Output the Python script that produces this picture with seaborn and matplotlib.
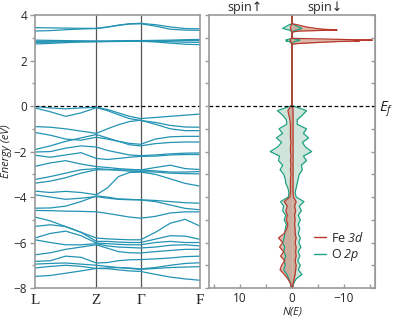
import numpy as np
import pandas as pd
import seaborn as sns
import matplotlib.pyplot as plt
from matplotlib.lines import Line2D

# =============================================================================
# Data
# =============================================================================
# high symmetry points along the k-path
k_labels = ['L', 'Z', 'Γ', 'F']
k_ticks = [0.0, 1.0, 1.72, 2.69]

# band energies (eV), 13 samples per band: L, 3 pts, Z, 3 pts, Γ, 3 pts, F
cond_bands = {
    'c1': [3.45, 3.44, 3.43, 3.42, 3.42, 3.48, 3.56, 3.62, 3.64, 3.58, 3.48, 3.41, 3.40],
    'c2': [3.30, 3.32, 3.36, 3.39, 3.41, 3.47, 3.55, 3.61, 3.62, 3.52, 3.38, 3.34, 3.33],
    'c3': [2.90, 2.89, 2.88, 2.87, 2.86, 2.86, 2.87, 2.88, 2.88, 2.89, 2.90, 2.92, 2.93],
    'c4': [2.85, 2.85, 2.85, 2.85, 2.85, 2.85, 2.86, 2.86, 2.87, 2.87, 2.87, 2.88, 2.88],
    'c5': [2.80, 2.81, 2.82, 2.83, 2.84, 2.84, 2.85, 2.85, 2.86, 2.85, 2.83, 2.81, 2.80],
    'c6': [2.73, 2.76, 2.79, 2.82, 2.83, 2.84, 2.84, 2.85, 2.85, 2.82, 2.77, 2.72, 2.70],
}
val_bands = {
    'v01': [-0.02, -0.08, -0.12, -0.08, -0.05, -0.15, -0.30, -0.45, -0.55, -0.50, -0.45, -0.40, -0.35],
    'v02': [-0.08, -0.25, -0.45, -0.30, -0.07, -0.20, -0.38, -0.55, -0.63, -0.72, -0.85, -0.92, -0.93],
    'v03': [-0.90, -0.93, -1.00, -1.10, -1.20, -1.00, -0.82, -0.68, -0.62, -0.80, -1.00, -1.08, -1.08],
    'v04': [-1.16, -1.28, -1.45, -1.50, -1.37, -1.45, -1.55, -1.64, -1.68, -1.45, -1.35, -1.33, -1.33],
    'v05': [-1.91, -1.75, -1.55, -1.40, -1.25, -1.40, -1.55, -1.70, -1.75, -1.65, -1.60, -1.58, -1.58],
    'v06': [-2.02, -2.00, -1.85, -1.75, -1.80, -1.95, -2.05, -2.15, -2.18, -2.15, -2.10, -2.07, -2.06],
    'v07': [-2.16, -2.25, -2.15, -2.05, -2.30, -2.35, -2.30, -2.25, -2.21, -2.20, -2.15, -2.13, -2.13],
    'v08': [-2.65, -2.50, -2.40, -2.55, -2.66, -2.70, -2.75, -2.78, -2.81, -2.70, -2.60, -2.75, -2.79],
    'v09': [-3.23, -3.10, -2.95, -2.80, -2.75, -2.78, -2.82, -2.86, -2.88, -2.90, -2.95, -2.97, -2.98],
    'v10': [-3.39, -3.30, -3.15, -2.95, -2.80, -2.80, -2.81, -2.81, -2.81, -2.85, -2.90, -2.90, -2.88],
    'v11': [-3.74, -3.80, -3.75, -3.80, -3.90, -3.60, -3.10, -2.92, -2.90, -3.00, -3.20, -3.40, -3.52],
    'v12': [-3.90, -4.00, -4.10, -4.05, -3.98, -4.05, -4.10, -4.12, -4.12, -4.15, -4.20, -4.25, -4.27],
    'v13': [-4.49, -4.48, -4.40, -4.20, -3.95, -4.00, -4.08, -4.10, -4.13, -4.20, -4.35, -4.50, -4.56],
    'v14': [-4.59, -4.60, -4.62, -4.63, -4.65, -4.72, -4.80, -4.88, -4.93, -4.85, -4.70, -4.65, -4.65],
    'v15': [-4.88, -5.05, -5.30, -5.55, -5.80, -5.84, -5.86, -5.88, -5.88, -5.55, -5.15, -4.98, -5.28],
    'v16': [-5.29, -5.22, -5.30, -5.55, -5.95, -5.95, -5.98, -6.00, -6.00, -5.85, -5.70, -5.72, -5.86],
    'v17': [-5.80, -5.60, -5.50, -5.70, -6.02, -6.05, -6.08, -6.10, -6.10, -6.00, -5.95, -6.00, -6.00],
    'v18': [-5.88, -6.00, -6.10, -6.10, -6.05, -6.15, -6.20, -6.22, -6.24, -6.20, -6.12, -6.10, -6.15],
    'v19': [-6.54, -6.45, -6.30, -6.20, -6.10, -6.25, -6.40, -6.45, -6.46, -6.40, -6.35, -6.30, -6.30],
    'v20': [-6.83, -6.80, -6.60, -6.65, -6.90, -6.88, -6.80, -6.76, -6.75, -6.72, -6.68, -6.62, -6.60],
    'v21': [-7.12, -7.05, -7.00, -7.05, -7.14, -7.12, -7.10, -7.12, -7.16, -7.10, -7.00, -6.92, -6.89],
    'v22': [-7.49, -7.45, -7.35, -7.25, -7.14, -7.15, -7.20, -7.25, -7.27, -7.40, -7.52, -7.60, -7.66],
    'v23': [-6.95, -6.92, -6.90, -6.95, -7.00, -7.05, -7.10, -7.14, -7.18, -7.14, -7.10, -7.08, -7.06],
}

# projected DOS, conduction region
e_cb = [4.00, 3.62, 3.58, 3.52, 3.47, 3.42, 3.38, 3.35, 3.33, 3.30, 3.27, 3.22,
        3.02, 2.98, 2.96, 2.93, 2.90, 2.88, 2.86, 2.84, 2.81, 2.78, 2.75, 2.72, 2.60, 0.05]
fe_up_cb = [0, 0, 0.1, 0.2, 0.3, 0.3, 0.2, 0.2, 0.1, 0.1, 0, 0,
            0, 0, 0.2, 0.3, 0.4, 0.3, 0.3, 0.2, 0.2, 0.1, 0.1, 0, 0, 0]
fe_dn_cb = [0, 0, -1.0, -2.0, -3.0, -4.5, -6.0, -8.7, -6.0, -1.5, -0.3, 0,
            0, 0, -4.0, -10.0, -15.5, -12.0, -13.0, -9.0, -6.0, -3.5, -1.0, 0, 0, 0]
o_up_cb = [0, 0, 0.5, 1.0, 1.4, 1.8, 1.2, 0.6, 0.4, 0.2, 0.1, 0,
           0, 0, 0.3, 0.8, 1.2, 0.9, 1.1, 0.6, 0.3, 0.2, 0.1, 0, 0, 0]
o_dn_cb = [0, 0, -0.4, -0.9, -1.4, -1.9, -1.5, -1.0, -0.6, -0.3, -0.1, 0,
           0, 0, -0.4, -0.9, -1.5, -1.2, -1.0, -0.6, -0.3, -0.2, -0.1, 0, 0, 0]

# projected DOS, valence region
e_vb = [0.0, -0.2, -0.4, -0.6, -0.8, -1.0, -1.2, -1.4, -1.6, -1.8, -2.0, -2.2, -2.4, -2.6,
        -2.8, -3.0, -3.2, -3.4, -3.6, -3.8, -4.0, -4.2, -4.4, -4.6, -4.8, -5.0, -5.2, -5.4,
        -5.6, -5.8, -6.0, -6.2, -6.4, -6.6, -6.8, -7.0, -7.2, -7.4, -7.6, -7.8, -8.0]
o_up_vb = [0.3, 2.8, 1.8, 1.1, 1.0, 2.5, 1.8, 3.0, 2.0, 2.8, 4.2, 2.4, 2.6, 1.8,
           2.3, 1.6, 1.3, 1.2, 0.8, 0.6, 0.7, 2.2, 1.6, 1.8, 1.2, 1.5, 1.1, 1.3,
           1.4, 1.5, 1.8, 1.4, 1.6, 1.2, 1.5, 1.3, 1.6, 1.0, 0.6, 0.3, 0.1]
o_dn_vb = [-0.3, -2.8, -2.0, -1.0, -1.0, -2.8, -2.2, -3.2, -2.0, -2.6, -3.8, -2.2, -2.8, -1.8,
           -2.0, -1.4, -1.2, -1.0, -0.8, -0.6, -0.8, -2.3, -1.4, -1.8, -1.2, -1.6, -1.2, -1.5,
           -1.2, -1.6, -1.3, -1.7, -1.2, -1.5, -1.1, -1.6, -1.2, -1.9, -0.8, -0.3, -0.1]
fe_up_vb = [0.2, 0.8, 0.6, 0.4, 0.3, 0.3, 0.3, 0.3, 0.2, 0.3, 0.3, 0.2, 0.3, 0.2,
            0.3, 0.2, 0.3, 0.3, 0.3, 0.3, 0.4, 1.5, 0.9, 1.2, 0.9, 1.1, 0.8, 1.0,
            1.5, 2.6, 1.8, 2.4, 1.6, 2.2, 1.4, 2.0, 2.3, 1.5, 0.8, 0.3, 0.1]
fe_dn_vb = [-0.1, -0.2, -0.2, -0.2, -0.2, -0.2, -0.2, -0.2, -0.2, -0.2, -0.2, -0.2, -0.2, -0.2,
            -0.2, -0.2, -0.2, -0.2, -0.2, -0.2, -0.3, -0.8, -0.5, -0.7, -0.5, -0.6, -0.5, -0.6,
            -0.6, -0.8, -0.6, -0.8, -0.7, -0.8, -0.6, -0.8, -0.7, -0.6, -0.4, -0.2, -0.1]

# =============================================================================
# Style
# =============================================================================
sns.set_style('ticks')
plt.rcParams['font.family'] = ['Open Sans', 'DejaVu Sans']
plt.rcParams['mathtext.fontset'] = 'custom'
# italic everywhere inside $...$ (digits included)
plt.rcParams['mathtext.rm'] = 'Open Sans:italic'
plt.rcParams['mathtext.it'] = 'Open Sans:italic'

band_color = '#2393b3'
fe_color = '#b8392b'
o_color = '#1fa283'
spine_color = '#9a9a9a'

fig = plt.figure(figsize=(3.93, 3.22), dpi=100)
ax_b = fig.add_axes([0.089, 0.1056, 0.420, 0.8474])
ax_d = fig.add_axes([0.532, 0.1056, 0.422, 0.8474])

# =============================================================================
# Band structure
# =============================================================================
k_pts = np.concatenate([np.linspace(k_ticks[i], k_ticks[i + 1], 5)[:-1] for i in range(3)] + [[k_ticks[-1]]])
rows = []
for name, vals in {**cond_bands, **val_bands}.items():
    for kk, ee in zip(k_pts, vals):
        rows.append({'k': kk, 'E': ee, 'band': name})
bands_df = pd.DataFrame(rows)

sns.lineplot(data=bands_df, x='k', y='E', units='band', estimator=None, sort=False,
             color=band_color, lw=0.9, ax=ax_b, legend=False)
for kx in k_ticks[1:-1]:
    ax_b.axvline(kx, color='#555555', lw=0.9, zorder=0)
ax_b.axhline(0, color='black', lw=0.9, ls=(0, (3, 2)))
ax_b.set_xlim(k_ticks[0], k_ticks[-1])
ax_b.set_ylim(-8, 4)
ax_b.set_xticks(k_ticks)
ax_b.set_xticklabels(k_labels, family='Liberation Serif', fontsize=11)
ax_b.tick_params(axis='x', length=0, pad=4)
ax_b.set_yticks([-8, -6, -4, -2, 0, 2, 4])
ax_b.set_yticks([-7, -5, -3, -1, 1, 3], minor=True)
ax_b.tick_params(axis='y', which='major', length=3.5, width=1, color=spine_color, labelsize=8.5, pad=2)
ax_b.tick_params(axis='y', which='minor', length=2, width=1, color=spine_color)
ax_b.set_xlabel('')
ax_b.set_ylabel('Energy (eV)', style='italic', fontsize=8, labelpad=1)
for sp in ax_b.spines.values():
    sp.set_color(spine_color)
    sp.set_linewidth(1.2)

# =============================================================================
# Projected DOS
# =============================================================================
energy = e_cb + e_vb
dos = {
    'O_up': o_up_cb + o_up_vb,
    'O_dn': o_dn_cb + o_dn_vb,
    'Fe_up': fe_up_cb + fe_up_vb,
    'Fe_dn': fe_dn_cb + fe_dn_vb,
}

for key in ['O_up', 'O_dn']:
    ax_d.fill_betweenx(energy, 0, dos[key], color='#cfe5db', lw=0)
    sns.lineplot(x=dos[key], y=energy, sort=False, estimator=None, color=o_color, lw=0.9, ax=ax_d)
for key in ['Fe_up', 'Fe_dn']:
    ax_d.fill_betweenx(energy, 0, dos[key], color='#c98874', alpha=0.6, lw=0)
    sns.lineplot(x=dos[key], y=energy, sort=False, estimator=None, color=fe_color, lw=0.9, ax=ax_d)

ax_d.axhline(0, color='black', lw=0.9, ls=(0, (3, 2)), clip_on=False)
ax_d.set_xlim(16, -16)
ax_d.set_ylim(-8, 4)
ax_d.set_xticks([10, 0, -10])
ax_d.set_xticks([15, 5, -5, -15], minor=True)
ax_d.set_yticks(range(-8, 5))
ax_d.set_yticklabels([])
ax_d.tick_params(axis='x', which='both', direction='in', length=3, width=1, color=spine_color, labelsize=8.5, pad=3)
ax_d.tick_params(axis='y', length=3, width=1, color=spine_color)
ax_r = ax_d.secondary_yaxis('right')
ax_r.set_yticks(range(-8, 5))
ax_r.set_yticklabels([])
ax_r.tick_params(direction='in', length=3, width=1, color=spine_color)
ax_r.spines['right'].set_color(spine_color)
ax_d.set_xlabel('N(E)', style='italic', fontsize=8, labelpad=1)
ax_d.set_ylabel('')
for sp in ax_d.spines.values():
    sp.set_color(spine_color)
    sp.set_linewidth(1.2)

handles = [Line2D([], [], color=fe_color, lw=1), Line2D([], [], color=o_color, lw=1)]
ax_d.legend(handles, [r'Fe $3d$', r'O $2p$'], loc='lower right',
            bbox_to_anchor=(1.0, 0.05), frameon=False, fontsize=9, handlelength=0.9,
            handletextpad=0.4, labelspacing=0.2)

fig.text(245 / 393, 1 - 8 / 322, 'spin↑', ha='center', va='center', fontsize=9)
fig.text(325 / 393, 1 - 8 / 322, 'spin↓', ha='center', va='center', fontsize=9)
fig.text(386 / 393, 1 - 109 / 322, r'$E_f$', ha='center', va='center', fontsize=11)

fig.savefig('out.png', dpi=100)
